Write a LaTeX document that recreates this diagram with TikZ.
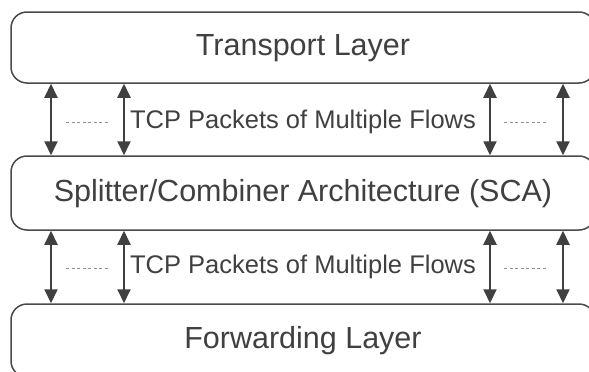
\documentclass[tikz,border=0pt]{standalone}
\usepackage{fontspec}
\setmainfont{Liberation Sans}
\usetikzlibrary{arrows.meta}
\definecolor{ink}{HTML}{404040}
\definecolor{edge}{HTML}{4A4A4A}
\definecolor{dots}{HTML}{909090}
\begin{document}
\begin{tikzpicture}[x=1pt,y=-1pt,
  layerbox/.style={draw=edge, line width=1.5pt, rounded corners=16pt,
    minimum width=584pt, inner sep=0pt, text=ink,
    font=\fontsize{30.5}{32}\selectfont, text height=21.8pt, text depth=5pt},
  flowlabel/.style={text=ink, inner sep=0pt,
    font=\fontsize{25.5}{27}\selectfont, text height=18.3pt, text depth=0pt},
  flowarrow/.style={draw=ink, line width=2pt,
    {Triangle[width=13pt,length=14pt]}-{Triangle[width=13pt,length=14pt]}},
  gapline/.style={draw=dots, line width=1pt, dash pattern=on 3pt off 2.5pt}]
  \useasboundingbox (0,0) rectangle (589,372);
  \clip (0,0) rectangle (589,372);
  \fill[white] (0,0) rectangle (589,372);

  % the three layers
  \node[layerbox, minimum height=71pt] (transport) at (303,47.5) {Transport Layer};
  \node[layerbox, minimum height=74pt] (sca) at (303,193) {Splitter/Combiner Architecture (SCA)};
  \node[layerbox, minimum height=73pt] (fwd) at (303,340.5) {Forwarding Layer};

  % columns of the flow arrows
  \coordinate (c1) at (51,0);
  \coordinate (c2) at (124,0);
  \coordinate (c3) at (490,0);
  \coordinate (c4) at (563,0);

  % flows between transport layer and SCA
  \foreach \c in {c1,c2,c3,c4}
    \draw[flowarrow] (transport.south -| \c) -- (sca.north -| \c);
  \node[flowlabel] (lblup) at (303,119) {TCP Packets of Multiple Flows};
  \coordinate (d1a) at (66,122);  \coordinate (d1b) at (110,122);
  \coordinate (d2a) at (504,122); \coordinate (d2b) at (548,122);
  \draw[gapline] (d1a) -- (d1b);
  \draw[gapline] (d2a) -- (d2b);

  % flows between SCA and forwarding layer
  \foreach \c in {c1,c2,c3,c4}
    \draw[flowarrow] (sca.south -| \c) -- (fwd.north -| \c);
  \node[flowlabel] (lbldown) at (303,264) {TCP Packets of Multiple Flows};
  \coordinate (d3a) at (66,268.5);  \coordinate (d3b) at (110,268.5);
  \coordinate (d4a) at (504,268.5); \coordinate (d4b) at (548,268.5);
  \draw[gapline] (d3a) -- (d3b);
  \draw[gapline] (d4a) -- (d4b);
\end{tikzpicture}
\end{document}
